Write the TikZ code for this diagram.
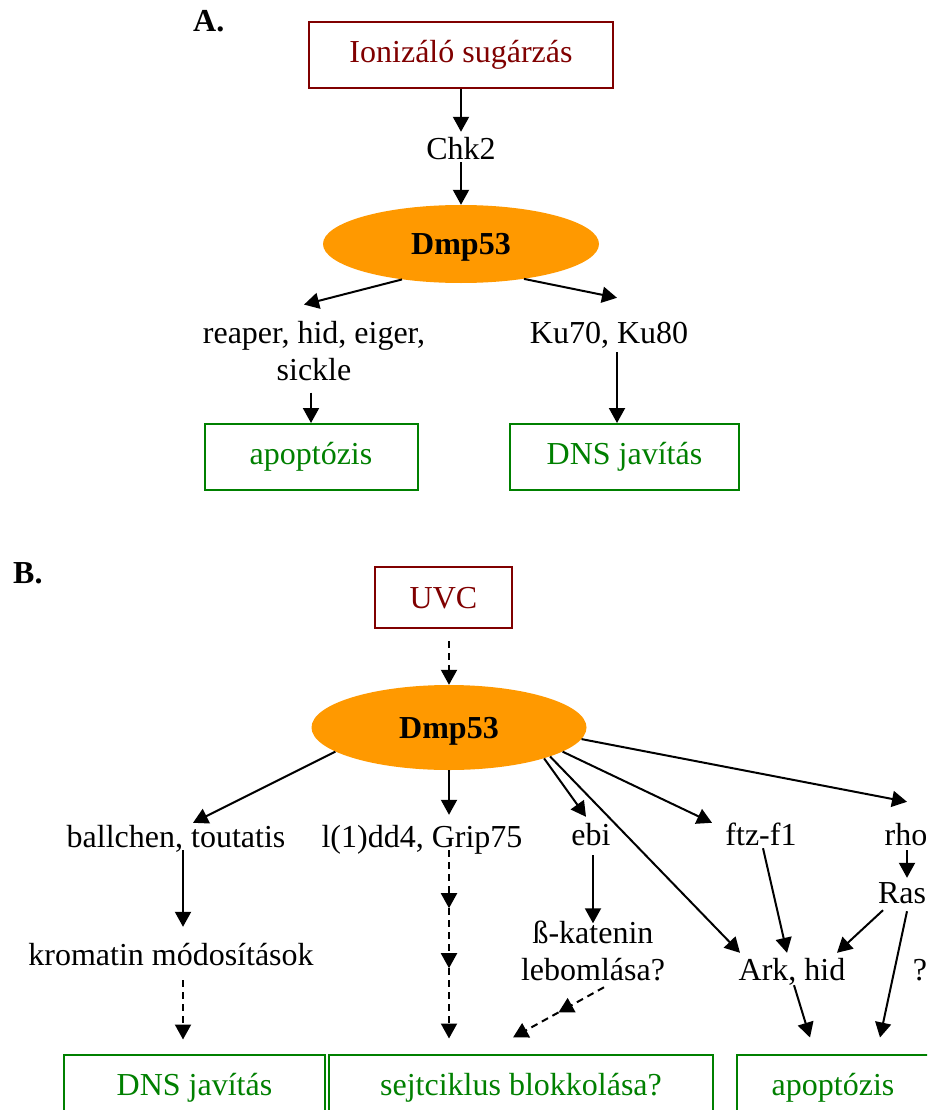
\documentclass[tikz,border=0pt]{standalone}
\usepackage{fontspec}
\setmainfont{Liberation Serif}
\usetikzlibrary{arrows.meta,calc,shapes.geometric}
\definecolor{dred}{RGB}{128,0,0}
\definecolor{dgreen}{RGB}{0,128,0}
\definecolor{orng}{RGB}{255,153,0}
\begin{document}
\begin{tikzpicture}[x=1pt,y=-1pt,
  txt/.style={inner sep=0pt,text height=22pt,text depth=7pt,font=\fontsize{32}{37}\selectfont},
  txtm/.style={inner sep=0pt,align=center,font=\fontsize{32}{37}\selectfont},
  redbox/.style={draw=dred,text=dred,line width=2pt,inner sep=0pt,text height=22pt,text depth=7pt,font=\fontsize{32}{37}\selectfont},
  greenbox/.style={draw=dgreen,text=dgreen,line width=2pt,inner sep=0pt,text height=22pt,text depth=7pt,font=\fontsize{32}{37}\selectfont},
  blob/.style={ellipse,fill=orng,inner sep=0pt,text height=22pt,text depth=1pt,font=\fontsize{32}{37}\selectfont\bfseries},
  arr/.style={-{Triangle[length=15pt,width=16pt]},line width=2pt},
  darr/.style={arr,dash pattern=on 7pt off 5pt},
  lbl/.style={font=\fontsize{32}{37}\selectfont\bfseries,inner sep=0pt,anchor=base west}]
\useasboundingbox (0,0) rectangle (927,1110);
\clip (0,0) rectangle (927,1110);
\fill[white] (0,0) rectangle (927,1110);
% ---------- A ----------
\node[lbl] (labA) at (193,32) {A.};
\node[redbox,minimum width=304pt,minimum height=66pt] (ion) at (461,55) {Ionizáló sugárzás};
\node[txt,anchor=base] (chk) at (461,160) {Chk2};
\node[blob,minimum width=276pt,minimum height=78pt] (dmpA) at (461,244) {Dmp53};
\node[txtm,anchor=base] (reaper) at (314,380) {reaper, hid, eiger,\\sickle};
\node[txt,anchor=base] (ku) at (609,343) {Ku70, Ku80};
\node[greenbox,minimum width=213pt,minimum height=66pt] (apoA) at (311,457) {apoptózis};
\node[greenbox,minimum width=229pt,minimum height=66pt] (dnsA) at (624.5,457) {DNS javítás};
\draw[arr] (ion.south) -- ($(chk.north)+(0,-6)$);
\draw[arr] ($(chk.south)+(0,-5)$) -- (dmpA.north);
\draw[arr] (dmpA.211) -- ($(reaper.north)+(-10,-16)$);
\draw[arr] (dmpA.-29) -- ($(ku.north)+(8,-23)$);
\draw[arr] ($(reaper.north)+(-3,72)$) -- (apoA.north);
\draw[arr] ($(ku.south)+(8,2)$) -- ($(dnsA.north)+(-7.5,0)$);
% ---------- B ----------
\node[lbl] (labB) at (13,583) {B.};
\node[redbox,text depth=0pt,minimum width=137pt,minimum height=61pt] (uvc) at (443.5,597.5) {UVC};
\node[blob,minimum width=275pt,minimum height=85pt] (dmpB) at (449,727.5) {Dmp53};
\node[txt,anchor=base] (ball) at (176,847) {ballchen, toutatis};
\node[txt,anchor=base] (grip) at (422,847) {l(1)dd4, Grip75};
\node[txt,anchor=base] (ebi) at (591,845) {ebi};
\node[txt,anchor=base] (ftz) at (761,845) {ftz-f1};
\node[txt,anchor=base] (rho) at (906,845) {rho};
\node[txt,anchor=base] (ras) at (902,903) {Ras};
\node[txt,anchor=base] (krom) at (171,965) {kromatin módosítások};
\node[txtm,anchor=base] (beta) at (593,980) {ß-katenin\\lebomlása?};
\node[txt,anchor=base] (ark) at (792,980) {Ark, hid};
\node[txt,anchor=base] (q) at (920,980) {?};
\node[greenbox,minimum width=261pt,minimum height=66pt] (dnsB) at (194.5,1087.5) {DNS javítás};
\node[greenbox,minimum width=384pt,minimum height=66pt] (sejt) at (521,1087.5) {sejtciklus blokkolása?};
\node[greenbox,minimum width=192pt,minimum height=66pt] (apoB) at (833,1087.5) {apoptózis};
\draw[darr] ($(uvc.south)+(5.5,12)$) -- (dmpB.north);
\draw[arr] (dmpB.192) -- ($(ball.north)+(17,-2)$);
\draw[arr] (dmpB.south) -- ($(grip.north)+(27,-10)$);
\draw[arr] (dmpB.-18) -- ($(ebi.north)+(-5,-6)$);
\draw[arr] (dmpB.-16) -- ($(ark.north)+(-52,-5)$);
\draw[arr] (dmpB.-12) -- ($(ftz.north)+(-49,0)$);
\draw[arr] (dmpB.-5) -- ($(rho.north)+(1,-21)$);
\draw[arr] ($(rho.south)+(1,-2)$) -- ($(ras.north)+(5,-3)$);
\draw[arr] ($(ras.south)+(-19,0)$) -- ($(ark.north)+(45,-5)$);
\draw[arr] ($(ras.south)+(5,1)$) -- ($(apoB.north)+(47,-16)$);
\draw[arr] ($(ftz.south)+(2,-4)$) -- ($(ark.north)+(-5,-5)$);
\draw[arr] ($(ark.south)+(2,-2)$) -- ($(apoB.north)+(-23,-16)$);
\draw[arr] ($(ebi.south)+(2,3)$) -- ($(beta.north)+(0,3)$);
\draw[arr] ($(ball.south)+(7,-4)$) -- ($(krom.north)+(12,-16)$);
\draw[darr] ($(krom.south)+(12,8)$) -- ($(dnsB.north)+(-11.5,-14)$);
\coordinate (g0) at ($(grip.south)+(27,-4)$);
\coordinate (g1) at ($(g0)+(0,58)$);
\coordinate (g2) at ($(g0)+(0,118)$);
\draw[darr] (g0) -- (g1);
\draw[darr] (g1) -- (g2);
\draw[darr] (g2) -- ($(sejt.north)+(-72,-15)$);
\coordinate (b0) at ($(beta.north)+(11,67)$);
\coordinate (b2) at ($(sejt.north)+(-8,-16)$);
\coordinate (bm) at ($(b0)!0.5!(b2)$);
\draw[darr] (b0) -- (bm);
\draw[darr] (bm) -- (b2);
\end{tikzpicture}
\end{document}
